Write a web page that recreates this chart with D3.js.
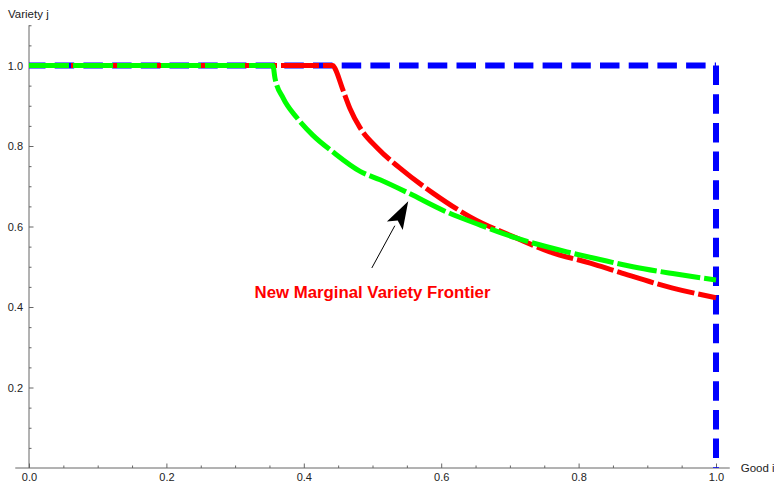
<!DOCTYPE html>
<html>
<head>
<meta charset="utf-8">
<script src="https://cdn.jsdelivr.net/npm/d3@7"></script>
<style>
  body { margin: 0; background: #fff; }
  svg { display: block; font-family: "Liberation Sans", Arial, sans-serif; }
  .tick text { fill: #222; font-size: 11px; }
  .axis-label { fill: #222; font-size: 11.5px; }
</style>
</head>
<body>
<svg width="774" height="486"></svg>
<script>
// Frontier values
const greenX = [0, 0.355, 0.358, 0.37, 0.39, 0.413, 0.4425, 0.482, 0.511, 0.55, 0.608, 0.656, 0.71, 0.783, 0.831, 0.879, 0.937, 1.0];
const greenY = [1, 1, 0.969, 0.919, 0.870, 0.827, 0.785, 0.737, 0.716, 0.685, 0.636, 0.604, 0.571, 0.537, 0.518, 0.500, 0.483, 0.467];

const redX = [0, 0.4425, 0.445, 0.456, 0.467, 0.482, 0.507, 0.54, 0.588, 0.642, 0.71, 0.758, 0.817, 0.86, 0.937, 1.0];
const redY = [1, 1, 0.994, 0.944, 0.894, 0.845, 0.795, 0.745, 0.683, 0.624, 0.571, 0.537, 0.509, 0.486, 0.447, 0.423];

// old frontier: the unit square corner
const blueX = [0, 1, 1];
const blueY = [1, 1, 0];

const xMajor = [0, 0.2, 0.4, 0.6, 0.8, 1.0];
const yMajor = [0.2, 0.4, 0.6, 0.8, 1.0];

const arrowTail = [0.499, 0.497];
const arrowTip = [0.552, 0.663];
const noteText = "New Marginal Variety Frontier";
const notePos = [0.5, 0.438];

const svg = d3.select("svg");

const x = d3.scaleLinear().domain([0, 1]).range([29, 716]);
const y = d3.scaleLinear().domain([0, 1]).range([468, 65.5]);

const zip = (xs, ys) => xs.map((d, i) => ({ x: d, y: ys[i] }));

// Axes (Mathematica style: ticks pointing into the plot)
const xMinor = d3.range(0, 1.0001, 0.05).filter(v => !xMajor.some(m => Math.abs(m - v) < 1e-6));
const yMinor = d3.range(0.05, 1.1001, 0.05).filter(v => !yMajor.some(m => Math.abs(m - v) < 1e-6));

const axisColor = "#666";

svg.append("line")
  .attr("x1", x(-0.02)).attr("x2", x(1.02))
  .attr("y1", y(0)).attr("y2", y(0))
  .attr("stroke", axisColor);

svg.append("line")
  .attr("x1", x(0)).attr("x2", x(0))
  .attr("y1", y(0)).attr("y2", y(1.1))
  .attr("stroke", axisColor);

const gx = svg.append("g")
  .attr("transform", `translate(0,${y(0)})`)
  .call(d3.axisBottom(x).tickValues(xMajor).tickSize(-4.5).tickPadding(5).tickFormat(d3.format(".1f")));
gx.select(".domain").remove();
gx.selectAll(".tick line").attr("stroke", axisColor);

const gxm = svg.append("g")
  .attr("transform", `translate(0,${y(0)})`)
  .call(d3.axisBottom(x).tickValues(xMinor).tickSize(-2.5).tickFormat(""));
gxm.select(".domain").remove();
gxm.selectAll(".tick line").attr("stroke", axisColor);

const gy = svg.append("g")
  .attr("transform", `translate(${x(0)},0)`)
  .call(d3.axisLeft(y).tickValues(yMajor).tickSize(-4.5).tickPadding(6).tickFormat(d3.format(".1f")));
gy.select(".domain").remove();
gy.selectAll(".tick line").attr("stroke", axisColor);

const gym = svg.append("g")
  .attr("transform", `translate(${x(0)},0)`)
  .call(d3.axisLeft(y).tickValues(yMinor).tickSize(-2.5).tickFormat(""));
gym.select(".domain").remove();
gym.selectAll(".tick line").attr("stroke", axisColor);

svg.selectAll(".tick text").attr("font-family", null).attr("font-size", null);

svg.append("text")
  .attr("class", "axis-label")
  .attr("x", 8).attr("y", 18)
  .text("Variety j");

svg.append("text")
  .attr("class", "axis-label")
  .attr("x", x(1.02) + 11).attr("y", y(0) + 4)
  .text("Good i");

// Curves: blue below, then red, green on top
const line = d3.line().x(d => x(d.x)).y(d => y(d.y));
const smooth = d3.line().x(d => x(d.x)).y(d => y(d.y)).curve(d3.curveMonotoneX);

svg.append("path")
  .datum(zip(blueX.slice(0, 2), blueY.slice(0, 2)))
  .attr("d", line)
  .attr("fill", "none")
  .attr("stroke", "#0000ff")
  .attr("stroke-width", 6)
  .attr("stroke-dasharray", "19.5,9.2")
  .attr("stroke-dashoffset", 3);

svg.append("path")
  .datum(zip(blueX.slice(1), blueY.slice(1)))
  .attr("d", line)
  .attr("fill", "none")
  .attr("stroke", "#0000ff")
  .attr("stroke-width", 6)
  .attr("stroke-dasharray", "19.5,9.2");

svg.append("path")
  .datum(zip(redX, redY))
  .attr("d", smooth)
  .attr("fill", "none")
  .attr("stroke", "#ff0000")
  .attr("stroke-width", 5)
  .attr("stroke-dasharray", "38,4");

svg.append("path")
  .datum(zip(greenX, greenY))
  .attr("d", smooth)
  .attr("fill", "none")
  .attr("stroke", "#00ff00")
  .attr("stroke-width", 5)
  .attr("stroke-dasharray", "40,4");

// Arrow pointing at the new frontier
const tx = x(arrowTail[0]), ty = y(arrowTail[1]);
const hx = x(arrowTip[0]), hy = y(arrowTip[1]);
const ang = Math.atan2(hy - ty, hx - tx);
const headLen = 28, headHalf = 9;
const bx = hx - headLen * Math.cos(ang), by = hy - headLen * Math.sin(ang);

svg.append("line")
  .attr("x1", tx).attr("y1", ty)
  .attr("x2", bx).attr("y2", by)
  .attr("stroke", "#000")
  .attr("stroke-width", 1);

svg.append("path")
  .attr("d", d3.line()([
    [hx, hy],
    [bx - headHalf * Math.sin(ang), by + headHalf * Math.cos(ang)],
    [bx + 6 * Math.cos(ang), by + 6 * Math.sin(ang)],
    [bx + headHalf * Math.sin(ang), by - headHalf * Math.cos(ang)]
  ]) + "Z")
  .attr("fill", "#000");

svg.append("text")
  .attr("x", x(notePos[0])).attr("y", y(notePos[1]))
  .attr("text-anchor", "middle")
  .attr("dy", "0.35em")
  .attr("fill", "#ff0000")
  .attr("font-weight", "bold")
  .attr("font-size", "16.8px")
  .text(noteText);
</script>
</body>
</html>
